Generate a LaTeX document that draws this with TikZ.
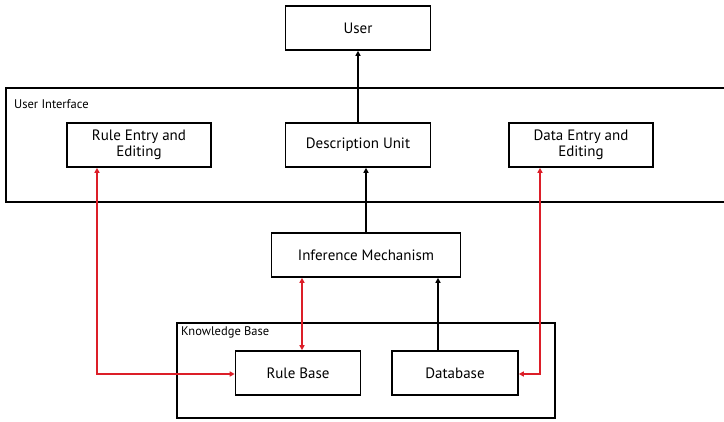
\documentclass[tikz,border=0pt]{standalone}
\usepackage{fontspec}
\setmainfont{PT Sans}
\usetikzlibrary{arrows.meta}
\definecolor{linkred}{RGB}{220,30,40}
\tikzset{
  box/.style={draw=black, line width=1.6pt, fill=white, inner sep=0pt, align=center, font=\fontsize{15}{16}\selectfont},
  frame/.style={draw=black, line width=1.6pt},
  grouplabel/.style={anchor=north west, inner sep=0pt, font=\fontsize{12.5}{13}\selectfont},
  flow/.style={line width=1.6pt, -{Triangle[length=5pt,width=5pt]}},
  link/.style={draw=linkred, line width=1.3pt, {Triangle[length=5pt,width=5pt]}-{Triangle[length=5pt,width=5pt]}}
}
\begin{document}
\begin{tikzpicture}[x=1pt,y=-1pt]
  \useasboundingbox (0,0) rectangle (724,422);
  % outer groups
  \draw[frame] (6,88) rectangle (726,202);
  \node[grouplabel] (uilabel) at (14,99) {User Interface};
  \draw[frame] (177,323) rectangle (555,418);
  \node[grouplabel] (kblabel) at (181,326) {Knowledge Base};
  % components
  \node[box, minimum width=145pt, minimum height=44pt] (user) at (358,28) {User};
  \node[box, minimum width=144pt, minimum height=44pt] (rule) at (139,145) {Rule Entry and\\Editing};
  \node[box, minimum width=145pt, minimum height=44pt] (desc) at (358,145) {Description Unit};
  \node[box, minimum width=144pt, minimum height=44pt] (data) at (581,145) {Data Entry and\\Editing};
  \node[box, minimum width=189pt, minimum height=44pt] (infer) at (366,255) {Inference Mechanism};
  \node[box, minimum width=125pt, minimum height=44pt] (rbase) at (298,373) {Rule Base};
  \node[box, minimum width=126pt, minimum height=44pt] (dbase) at (455,373) {Database};
  % black data flow
  \draw[flow] (desc.north) -- (user.south);
  \draw[flow] (infer.north) -- (infer.north |- desc.south);
  \draw[flow] ([xshift=-17pt]dbase.north) -- ([xshift=-17pt]dbase.north |- infer.south);
  % red editing links
  \coordinate (rcorner) at ([xshift=-42pt]rule.south |- 0,374);
  \draw[link] ([xshift=-42pt]rule.south) -- (rcorner) -- (rbase.west |- rcorner);
  \coordinate (dcorner) at ([xshift=-41pt]data.south |- 0,374);
  \draw[link] ([xshift=-41pt]data.south) -- (dcorner) -- (dbase.east |- dcorner);
  \draw[link] ([xshift=4pt]rbase.north |- infer.south) -- ([xshift=4pt]rbase.north);
\end{tikzpicture}
\end{document}
